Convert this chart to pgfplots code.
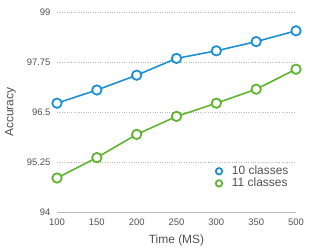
\documentclass[border=0pt]{standalone}
\usepackage{pgfplots}
\pgfplotsset{compat=1.18}
\usepackage{fontspec}
\setmainfont{Liberation Sans}
\definecolor{cblue}{RGB}{30,144,210}
\definecolor{cgreen}{RGB}{98,178,52}
\definecolor{ctext}{RGB}{80,80,80}
\definecolor{cgrid}{RGB}{185,185,185}
\begin{document}
\begin{tikzpicture}
\begin{axis}[
  at={(0,0)}, anchor=south west,
  scale only axis, width=239bp, height=200bp,
  xmin=0, xmax=6, ymin=94, ymax=99,
  xtick={0,...,6}, xticklabels={100,150,200,250,300,350,500},
  ytick={94,95.25,96.5,97.75,99},
  yticklabels={94,95.25,96.5,97.75,99},
  /pgf/number format/assume math mode=true,
  axis x line*=bottom, axis y line*=left,
  x axis line style={cgrid, line width=0.6pt, -},
  y axis line style={draw=none},
  major tick length=0pt,
  ymajorgrids, grid style={cgrid, dotted, line width=0.6pt},
  tick label style={font=\fontsize{9.5}{10}\selectfont, text=ctext},
  yticklabel style={xshift=-3bp},
  xticklabel style={yshift=-3bp},
  xlabel={Time (MS)}, ylabel={Accuracy},
  label style={font=\fontsize{12}{13}\selectfont, text=ctext},
  xlabel style={yshift=-3bp},
  ylabel style={yshift=4bp},
  clip=false,
  legend style={at={(rel axis cs:0.99,0.25)}, anchor=north east, draw=none, fill=none,
    font=\fontsize{12}{13}\selectfont, text=ctext, row sep=-2bp},
  legend cell align=left,
  legend image code/.code={\path[draw=none,fill=none] (0,0) -- (1.4em,0); \draw[#1, mark size=3.2bp] plot coordinates {(0.3em,0em)};},
]
\addplot[cblue, line width=1.6pt, mark=*, mark size=4.7bp, mark options={fill=white, line width=1.8pt}]
  coordinates {(0,96.72) (1,97.05) (2,97.42) (3,97.84) (4,98.03) (5,98.26) (6,98.53)};
\addlegendentry{10 classes}
\addplot[cgreen, line width=1.6pt, mark=*, mark size=4.7bp, mark options={fill=white, line width=1.8pt}]
  coordinates {(0,94.85) (1,95.36) (2,95.94) (3,96.39) (4,96.72) (5,97.07) (6,97.57)};
\addlegendentry{11 classes}
\end{axis}
\pgfresetboundingbox
\path (-57bp,-37bp) rectangle (257bp,212bp);
\end{tikzpicture}
\end{document}
